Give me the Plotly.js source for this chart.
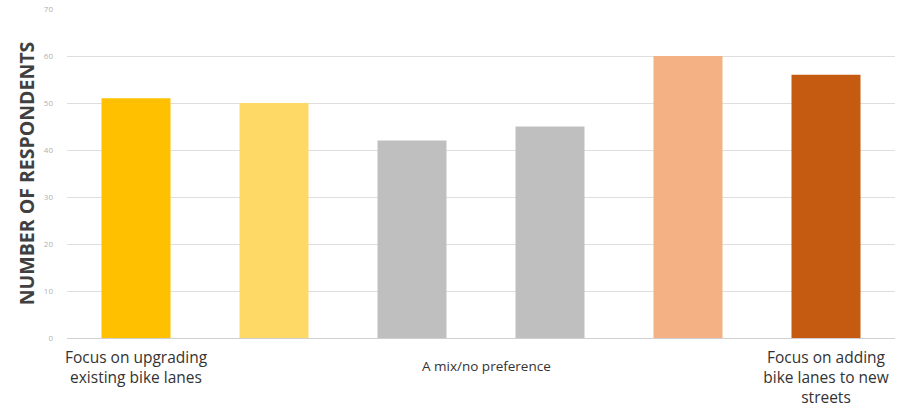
<!DOCTYPE html>
<html><head><meta charset="utf-8">
<script src="https://cdn.plot.ly/plotly-3.0.1.min.js"></script>
<style>body{margin:0;background:#fff}#c{width:901px;height:415px}</style>
</head><body><div id="c"></div>
<script>
const barIndex = [0, 1, 2, 3, 4, 5];
const values = [51, 50, 42, 45, 60, 56];
const barColors = ['#FFC000', '#FFD966', '#BFBFBF', '#BFBFBF', '#F4B183', '#C55A11'];
const tickPositions = [0, 5];
const tickLabels = ['Focus on upgrading<br>existing bike lanes', 'Focus on adding<br>bike lanes to new<br>streets'];
const middleLabel = 'A mix/no preference';
const middlePosition = 2.5;

Plotly.newPlot('c', [{
  type: 'bar', x: barIndex, y: values, width: 0.5,
  marker: {color: barColors}, hoverinfo: 'skip'
}], {
  width: 901, height: 415,
  margin: {l: 67, r: 6, t: 9, b: 77},
  paper_bgcolor: '#fff', plot_bgcolor: '#fff',
  showlegend: false,
  font: {family: 'Open Sans, sans-serif'},
  xaxis: {
    range: [-0.5, 5.5], tickmode: 'array', tickvals: tickPositions, ticktext: tickLabels,
    tickfont: {size: 15.5, color: '#333'}, showgrid: false, zeroline: false,
    showline: false, ticks: '', ticklabelstandoff: 8
  },
  yaxis: {
    range: [0, 70], dtick: 10, tickfont: {size: 8, color: '#b0b0b0'},
    gridcolor: '#dedede', gridwidth: 1, zeroline: true, zerolinecolor: '#d0d0d0', zerolinewidth: 1,
    showline: false, ticklabelstandoff: 13,
    title: {text: 'NUMBER OF RESPONDENTS', font: {size: 19.5, color: '#404040', family: 'Open Sans, sans-serif', weight: 'bold'}, standoff: 4}
  },
  annotations: [{
    x: middlePosition, xref: 'x', y: 0, yref: 'paper', yanchor: 'middle', yshift: -28, xshift: 5,
    text: middleLabel, showarrow: false, font: {size: 13.5, color: '#333'}
  }]
}, {staticPlot: true});
</script></body></html>
